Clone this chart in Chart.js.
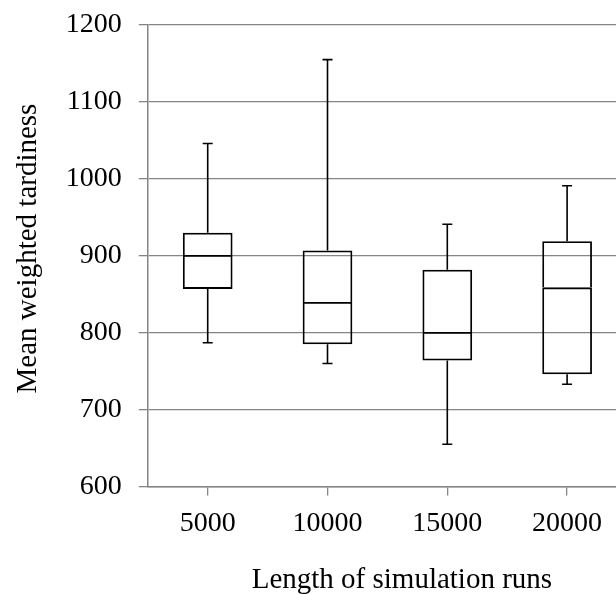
<!DOCTYPE html>
<html>
<head>
<meta charset="utf-8">
<title>Mean weighted tardiness</title>
<script src="https://cdn.jsdelivr.net/npm/chart.js@4/dist/chart.umd.min.js"></script>
<style>
    html, body { margin: 0; padding: 0; overflow: hidden; background: #fff; }
    #wrap { position: relative; width: 640px; height: 600px; }
</style>
</head>
<body>
<div id="wrap"><canvas id="graficoCaja"></canvas></div>
<script>
// =========================
// DATOS
// =========================
const categories = ['5000', '10000', '15000', '20000'];
const whiskerMin = [787, 760, 655, 733];
const q1Values   = [857, 785, 764, 746];
const medians    = [901, 840, 801, 859];
const q3Values   = [930, 907, 882, 919];
const whiskerMax = [1046, 1155, 941, 991];
const yTicks     = [600, 700, 800, 900, 1000, 1100, 1200];

const gridGray = '#858585';

// bigotes: se dibujan con las escalas del propio chart
const whiskerPlugin = {
    id: 'whiskers',
    afterDatasetsDraw(chart) {
        const { ctx, scales: { x, y } } = chart;
        ctx.save();
        ctx.strokeStyle = '#000';
        ctx.lineWidth = 1.6;
        categories.forEach((c, i) => {
            const cx = x.getPixelForValue(i);
            const segs = [[q3Values[i], whiskerMax[i]], [q1Values[i], whiskerMin[i]]];
            segs.forEach(([from, to]) => {
                const y0 = y.getPixelForValue(from);
                const y1 = y.getPixelForValue(to);
                ctx.beginPath();
                ctx.moveTo(cx, y0);
                ctx.lineTo(cx, y1);
                ctx.moveTo(cx - 5, y1);
                ctx.lineTo(cx + 5, y1);
                ctx.stroke();
            });
        });
        ctx.restore();
    }
};

Chart.defaults.font.family = '"Liberation Serif", "Times New Roman", serif';
Chart.defaults.font.size = 28;
Chart.defaults.color = '#000';

new Chart(document.getElementById('graficoCaja'), {
    type: 'bar',
    data: {
        labels: categories,
        datasets: [
            {
                label: 'Q1 - mediana',
                data: categories.map((c, i) => [q1Values[i], medians[i]]),
                backgroundColor: 'rgba(0,0,0,0)',
                borderColor: '#000',
                borderWidth: 1.8,
                borderSkipped: false,
                grouped: false,
                barPercentage: 1,
                categoryPercentage: 0.415
            },
            {
                label: 'mediana - Q3',
                data: categories.map((c, i) => [medians[i], q3Values[i]]),
                backgroundColor: 'rgba(0,0,0,0)',
                borderColor: '#000',
                borderWidth: 1.8,
                borderSkipped: 'start',
                grouped: false,
                barPercentage: 1,
                categoryPercentage: 0.415
            }
        ]
    },
    options: {
        responsive: true,
        maintainAspectRatio: false,
        animation: false,
        layout: { padding: { top: 25, right: 13, left: 0, bottom: 0 } },
        plugins: {
            legend: { display: false },
            tooltip: { enabled: false }
        },
        scales: {
            x: {
                grid: {
                    offset: false,
                    drawOnChartArea: false,
                    drawTicks: true,
                    tickLength: 9,
                    color: gridGray,
                    lineWidth: 1.3
                },
                border: { color: gridGray, width: 1.5 },
                ticks: { padding: 11 },
                title: {
                    display: true,
                    // el título va algo desplazado a la derecha en el original
                    text: '    Length of simulation runs',
                    font: { size: 29 },
                    padding: { top: 12, bottom: 2 }
                }
            },
            y: {
                min: 600,
                max: 1200,
                afterBuildTicks: (axis) => { axis.ticks = yTicks.map(v => ({ value: v })); },
                grid: {
                    color: gridGray,
                    lineWidth: 1.3,
                    tickLength: 9
                },
                border: { color: gridGray, width: 1.5 },
                ticks: {
                    padding: 17,
                    font: { lineHeight: 0.5 },
                    callback: (value) => String(value)
                },
                title: {
                    display: true,
                    text: '  Mean weighted tardiness',
                    font: { size: 29 },
                    padding: { top: 11, bottom: 3 }
                }
            }
        }
    },
    plugins: [whiskerPlugin]
});
</script>
</body>
</html>
